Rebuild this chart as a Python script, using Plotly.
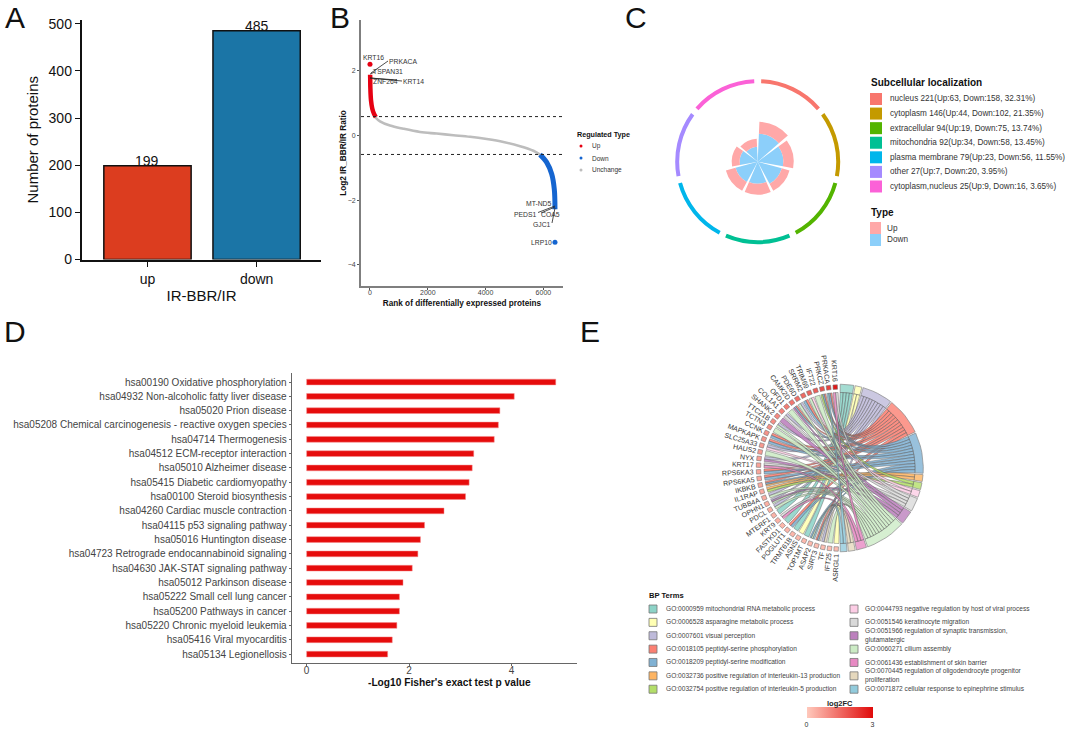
import math
import plotly.graph_objects as go

W, H = 1065, 732
FONT = "Liberation Sans"

# ---------- Panel A ----------
a_categories = ["up", "down"]
a_values = [199, 485]
a_colors = ["#DC3D1F", "#1B75A6"]

# ---------- Panel B ----------
b_red_rank = [5, 8, 12, 35, 80, 140, 200]
b_red_val = [1.88, 1.75, 1.5, 1.09, 0.83, 0.67, 0.57]
b_gray_rank = [173, 346, 692, 1154, 1731, 2308, 2885, 3462, 4039, 4616, 5193, 5655, 5885]
b_gray_val = [0.57, 0.44, 0.31, 0.21, 0.11, 0.06, 0.01, -0.04, -0.11, -0.2, -0.33, -0.47, -0.59]
b_blue_rank = [5882, 6114, 6287, 6377, 6400]
b_blue_val = [-0.59, -0.83, -1.19, -1.66, -2.28]
b_single_rank = [0, 6401]
b_single_val = [2.2, -3.3]
b_single_color = ["#E60012", "#1565D0"]
b_threshold = 0.585

# ---------- Panel C ----------
c_names = ["nucleus 221(Up:63, Down:158, 32.31%)", "cytoplasm 146(Up:44, Down:102, 21.35%)",
           "extracellular 94(Up:19, Down:75, 13.74%)", "mitochondria 92(Up:34, Down:58, 13.45%)",
           "plasma membrane 79(Up:23, Down:56, 11.55%)", "other 27(Up:7, Down:20, 3.95%)",
           "cytoplasm,nucleus 25(Up:9, Down:16, 3.65%)"]
c_colors = ["#F8766D", "#C49A00", "#53B400", "#00C094", "#00B6EB", "#A58AFF", "#FB61D7"]
c_down_radius = [28, 25.6, 25, 22, 23, 18, 15]
c_total_radius = [40, 36, 33, 33, 33, 26, 23]
c_up_color = "#FFA8A8"
c_down_color = "#8CCFFA"

# ---------- Panel D ----------
d_terms = ["hsa00190 Oxidative phosphorylation", "hsa04932 Non-alcoholic fatty liver disease",
           "hsa05020 Prion disease", "hsa05208 Chemical carcinogenesis - reactive oxygen species",
           "hsa04714 Thermogenesis", "hsa04512 ECM-receptor interaction", "hsa05010 Alzheimer disease",
           "hsa05415 Diabetic cardiomyopathy", "hsa00100 Steroid biosynthesis",
           "hsa04260 Cardiac muscle contraction", "hsa04115 p53 signaling pathway",
           "hsa05016 Huntington disease", "hsa04723 Retrograde endocannabinoid signaling",
           "hsa04630 JAK-STAT signaling pathway", "hsa05012 Parkinson disease",
           "hsa05222 Small cell lung cancer", "hsa05200 Pathways in cancer",
           "hsa05220 Chronic myeloid leukemia", "hsa05416 Viral myocarditis", "hsa05134 Legionellosis"]
d_values = [4.86, 4.05, 3.77, 3.74, 3.66, 3.26, 3.23, 3.17, 3.10, 2.68,
            2.30, 2.22, 2.17, 2.06, 1.88, 1.81, 1.81, 1.76, 1.67, 1.58]

# ---------- Panel E ----------
e_genes = ["KRT16", "PRKACA", "PRKCZ", "IFT22", "TRIM69", "SRRM2", "PDE6D", "CAMK2D", "OFD1", "COL1A1",
           "SHANK2", "TTC21B", "TCTN3", "CCNK", "MAPKAPK", "SLC25A33", "HAUS2", "NYX", "KRT17", "RPS6KA3",
           "RPS6KA5", "IKBKB", "IL1RAP", "TUBB4A", "OPHN1", "PDCL", "MTERF1", "KRT9", "FASTKD1", "POGLUT1",
           "TRMT61B", "ASNS", "TOP1MT", "ASAP2", "SIRT3", "TF", "IFT25", "ASRGL1"]
e_log2fc = [2.8, 2.1, 1.9, 1.7, 1.6, 1.5, 1.4, 1.3, 1.2, 1.1, 1.0, 0.95, 0.9, 0.85, 0.8, 0.75, 0.7, 0.65, 0.6,
            0.55, 0.5, 0.5, 0.45, 0.45, 0.4, 0.4, 0.35, 0.35, 0.3, 0.3, 0.3, 0.25, 0.25, 0.25, 0.2, 0.2, 0.2, 0.2]
e_terms = ["GO:0000959 mitochondrial RNA metabolic process", "GO:0006528 asparagine metabolic process",
           "GO:0007601 visual perception", "GO:0018105 peptidyl-serine phosphorylation",
           "GO:0018209 peptidyl-serine modification", "GO:0032736 positive regulation of interleukin-13 production",
           "GO:0032754 positive regulation of interleukin-5 production",
           "GO:0044793 negative regulation by host of viral process", "GO:0051546 keratinocyte migration",
           "GO:0051966 regulation of synaptic transmission,<br>glutamatergic", "GO:0060271 cilium assembly",
           "GO:0061436 establishment of skin barrier",
           "GO:0070445 regulation of oligodendrocyte progenitor<br>proliferation",
           "GO:0071872 cellular response to epinephrine stimulus"]
e_colors = ["#8DD3C7", "#FFFFB3", "#BEBADA", "#FB8072", "#80B1D3", "#FDB462", "#B3DE69",
            "#FCCDE5", "#D9D9D9", "#BC80BD", "#CCEBC5", "#E78AC3", "#E5D8BD", "#92CBDC"]
e_term_genes = [
    ["MTERF1", "FASTKD1", "TRMT61B", "TOP1MT"],
    ["ASNS", "ASRGL1"],
    ["PDE6D", "COL1A1", "TTC21B", "SLC25A33", "NYX", "TUBB4A", "OPHN1", "PDCL", "TF"],
    ["PRKACA", "PRKCZ", "SRRM2", "CAMK2D", "CCNK", "MAPKAPK", "RPS6KA3", "RPS6KA5", "IKBKB", "POGLUT1", "SIRT3"],
    ["PRKACA", "PRKCZ", "SRRM2", "CAMK2D", "CCNK", "MAPKAPK", "RPS6KA3", "RPS6KA5", "IKBKB", "POGLUT1", "ASAP2", "SIRT3"],
    ["IKBKB", "IL1RAP"],
    ["PRKCZ", "IL1RAP"],
    ["TRIM69", "SLC25A33"],
    ["KRT16", "COL1A1", "KRT17", "KRT9"],
    ["CAMK2D", "SHANK2", "NYX", "OPHN1"],
    ["IFT22", "TRIM69", "PDE6D", "OFD1", "TTC21B", "TCTN3", "HAUS2", "TUBB4A", "OPHN1", "PDCL", "ASAP2", "IFT25"],
    ["KRT16", "KRT17", "KRT9"],
    ["SIRT3", "TF"],
    ["PRKACA", "ASAP2"],
]


def X(px):
    return px / W


def Y(py):
    return 1 - py / H


fig = go.Figure()
annotations, shapes = [], []


def label(px, py, text, size, color="#222222", anchor="left", bold=False, angle=0):
    annotations.append(dict(x=X(px), y=Y(py), xref="paper", yref="paper", text=f"<b>{text}</b>" if bold else text,
                            showarrow=False, xanchor=anchor, yanchor="middle", textangle=angle, align=anchor,
                            font=dict(family=FONT, size=size, color=color)))


def swatch(x0, y0, x1, y1, color, line=None):
    shapes.append(dict(type="rect", xref="paper", yref="paper", x0=X(x0), x1=X(x1), y0=Y(y0), y1=Y(y1),
                       fillcolor=color, line=dict(width=0.8 if line else 0, color=line or color)))


def segment(x0, y0, x1, y1, color="#222222", width=0.8):
    shapes.append(dict(type="line", xref="paper", yref="paper", x0=X(x0), x1=X(x1), y0=Y(y0), y1=Y(y1),
                       line=dict(color=color, width=width)))


# ---- A ----
fig.add_trace(go.Bar(x=a_categories, y=a_values, marker=dict(color=a_colors, line=dict(color="#111111", width=1.5)),
                     width=0.8, xaxis="x", yaxis="y", showlegend=False, hoverinfo="x+y"))
for cat, val in zip(a_categories, a_values):
    annotations.append(dict(x=cat, y=val, xref="x", yref="y", text=str(val), showarrow=False, xanchor="center",
                            yanchor="middle", yshift=4.5, font=dict(family=FONT, size=14, color="#111111")))

# ---- B ----
fig.add_trace(go.Scatter(x=b_gray_rank, y=b_gray_val, mode="lines", line=dict(color="#BDBDBD", width=2.6, shape="spline"),
                         xaxis="x2", yaxis="y2", showlegend=False))
fig.add_trace(go.Scatter(x=b_red_rank, y=b_red_val, mode="lines", line=dict(color="#E60012", width=4.5, shape="spline"),
                         xaxis="x2", yaxis="y2", showlegend=False))
fig.add_trace(go.Scatter(x=b_blue_rank, y=b_blue_val, mode="lines", line=dict(color="#1565D0", width=5, shape="spline"),
                         xaxis="x2", yaxis="y2", showlegend=False))
fig.add_trace(go.Scatter(x=b_single_rank, y=b_single_val, mode="markers", marker=dict(color=b_single_color, size=5),
                         xaxis="x2", yaxis="y2", showlegend=False))
for v in (b_threshold, -b_threshold):
    shapes.append(dict(type="line", xref="x2", yref="y2", x0=-311, x1=6650, y0=v, y1=v,
                       line=dict(color="#222222", width=1, dash="3px,3px")))
for txt, px, py in [("KRT16", 373.3, 57.3), ("PRKACA", 403.3, 61.3), ("TSPAN31", 388, 71.3), ("ZNF264", 385.7, 81.7),
                    ("KRT14", 413.3, 81.3), ("MT-ND5", 538.7, 204), ("PEDS1", 525.7, 214), ("COA5", 550.7, 214.3),
                    ("GJC1", 542.3, 224.7), ("LRP10", 541, 242.3)]:
    label(px, py, txt, 6.8, "#333333", "center")
for seg in [(388, 61, 371, 73), (375, 72, 370, 74), (397, 80, 370, 78), (402, 81, 370, 78),
            (538, 212.5, 555, 206), (541, 213, 555, 207), (552, 223, 555, 208)]:
    segment(*seg)
label(575, 134, "Regulated Type", 7.2, "#111111", "left", True)
for py, txt, col in [(146, "Up", "#E60012"), (158, "Down", "#1565D0"), (170, "Unchange", "#BDBDBD")]:
    shapes.append(dict(type="circle", xref="paper", yref="paper", x0=X(579.5), x1=X(582.5), y0=Y(py + 1.5), y1=Y(py - 1.5),
                       fillcolor=col, line=dict(width=0)))
    label(590, py, txt, 6.5, "#333333")

# ---- C ----
c_step = 360 / len(c_names)
c_theta = [c_step * (i + 0.5) for i in range(len(c_names))]
c_up_height = [t - d for t, d in zip(c_total_radius, c_down_radius)]
fig.add_trace(go.Barpolar(r=c_down_radius, theta=c_theta, width=46.5, marker=dict(color=c_down_color, line=dict(width=0)),
                          showlegend=False, subplot="polar"))
fig.add_trace(go.Barpolar(r=c_up_height, base=c_down_radius, theta=c_theta, width=46.5,
                          marker=dict(color=c_up_color, line=dict(width=0)), showlegend=False, subplot="polar"))
fig.add_trace(go.Barpolar(r=[4] * 7, base=[78.5] * 7, theta=c_theta, width=46.5,
                          marker=dict(color=c_colors, line=dict(width=0)), showlegend=False, subplot="polar"))
label(868.7, 82.7, "Subcellular localization", 10, "#111111", "left", True)
for i, (name, col) in enumerate(zip(c_names, c_colors)):
    py = 99 + 14.58 * i
    swatch(870, py - 6, 882, py + 6, col)
    label(888, py, name, 8.2, "#333333")
label(869, 213, "Type", 10, "#111111", "left", True)
for py, txt, col in [(228, "Up", c_up_color), (240, "Down", c_down_color)]:
    swatch(870, py - 6, 881, py + 6, col)
    label(885, py, txt, 8.2, "#333333")

# ---- D ----
fig.add_trace(go.Bar(x=d_values, y=d_terms, orientation="h", width=0.4,
                     marker=dict(color="#E60C0C", line=dict(color="#F58A8A", width=0.5)),
                     xaxis="x3", yaxis="y3", showlegend=False))
label(449.7, 682, "-Log10 Fisher's exact test p value", 10.2, "#111111", "center", True)

# ---- E ----
E_CX, E_CY, E_HALF = 839.5, 468.0, 125
R_IN, R_OUT = 75.5, 83.8
GENE_STEP, GENE_TOP = 4.72, 357.0
n_units = sum(len(t) for t in e_term_genes)
gap = 0.9
unit = (179.0 - gap * (len(e_term_genes) - 1)) / n_units


def pt(phi, r):
    a = math.radians(phi)
    return r * math.sin(a), r * math.cos(a)


def arc(p0, p1, r, n=6):
    return [pt(p0 + (p1 - p0) * k / n, r) for k in range(n + 1)]


def bez(a, b, n=22):
    return [((1 - s) ** 2 * a[0] + (s ** 2) * b[0], (1 - s) ** 2 * a[1] + (s ** 2) * b[1])
            for s in (k / n for k in range(n + 1))]


gene_terms = {g: [] for g in e_genes}
for ti, members in enumerate(e_term_genes):
    for g in members:
        gene_terms[g].append(ti)


def rgba(hex_c, alpha):
    h = hex_c.lstrip("#")
    return f"rgba({int(h[0:2],16)},{int(h[2:4],16)},{int(h[4:6],16)},{alpha})"


start = 0.5
for ti, members in enumerate(e_term_genes):
    tw = unit * len(members)
    poly = arc(start, start + tw, R_OUT) + arc(start + tw, start, R_IN)
    poly.append(poly[0])
    fig.add_trace(go.Scatter(x=[p[0] for p in poly], y=[p[1] for p in poly], mode="lines", fill="toself",
                             fillcolor=rgba(e_colors[ti], 0.8), line=dict(color="#888888", width=0.7),
                             xaxis="x4", yaxis="y4", showlegend=False, hoverinfo="skip"))
    for k, g in enumerate(sorted(members, key=e_genes.index)):
        t0, t1 = start + unit * k, start + unit * (k + 1)
        gi = e_genes.index(g)
        slots = gene_terms[g]
        slot = slots.index(ti)
        width = (GENE_STEP - 0.9) / len(slots)
        top = GENE_TOP - gi * GENE_STEP + (GENE_STEP - 0.9) / 2
        g1 = top - slot * width
        g0 = g1 - width
        path = (bez(pt(g1, R_IN), pt(t0, R_IN)) + arc(t0, t1, R_IN, 2)
                + bez(pt(t1, R_IN), pt(g0, R_IN)) + arc(g0, g1, R_IN, 2))
        fig.add_trace(go.Scatter(x=[p[0] for p in path], y=[p[1] for p in path], mode="lines", fill="toself",
                                 fillcolor=rgba(e_colors[ti], 0.88), line=dict(color="rgba(85,85,85,0.85)", width=0.5),
                                 xaxis="x4", yaxis="y4", showlegend=False, hoverinfo="skip"))
    start += tw + gap

gene_phi = [GENE_TOP - i * GENE_STEP for i in range(len(e_genes))]
gene_xy = [pt(p, 81) for p in gene_phi]
fig.add_trace(go.Scatter(
    x=[p[0] for p in gene_xy], y=[p[1] for p in gene_xy], mode="markers", xaxis="x4", yaxis="y4", showlegend=False,
    text=e_genes, hoverinfo="text",
    marker=dict(symbol="square", size=4.4, angle=gene_phi, color=e_log2fc, cmin=0, cmax=3,
                colorscale=[[0, "#FFC9BC"], [1, "#E00A0A"]], line=dict(color="#777777", width=0.6),
                colorbar=dict(orientation="h", lenmode="pixels", len=65.6, thicknessmode="pixels", thickness=11,
                              x=X(839.5), xanchor="center", y=Y(716.2), yanchor="middle", tickvals=[0, 3], ticks="",
                              outlinewidth=0, xpad=0, ypad=0,
                              tickfont=dict(family=FONT, size=7, color="#333333")))))
label(839.5, 703, "log2FC", 7.5, "#222222", "center", True)


def est_width(s, size):
    w = 0
    for c in s:
        w += 0.556 if c.isdigit() else (0.28 if c in "IJ" else (0.833 if c == "M" else 0.68))
    return w * size


for g, phi in zip(e_genes, gene_phi):
    rc = 85.5 + est_width(g, 7) / 2
    xc, yc = pt(phi, rc)
    annotations.append(dict(x=xc, y=yc, xref="x4", yref="y4", text=g, showarrow=False, xanchor="center", yanchor="middle",
                            textangle=phi - 270, font=dict(family=FONT, size=7, color="#333333")))

label(647, 595, "BP Terms", 7.6, "#111111", "left", True)
for i, (name, col) in enumerate(zip(e_terms, e_colors)):
    col_i, row = (0, i) if i < 7 else (1, i - 7)
    py = 609 + 13.37 * row
    sx = 649 if col_i == 0 else 850
    tx = 663.7 if col_i == 0 else 863
    swatch(sx, py - 4, sx + 8, py + 4, col, "#777777")
    label(tx, py, name, 6.6, "#444444")

# ---- Panel letters ----
for ch, px, py in [("A", 3, 17.5), ("B", 328, 17.5), ("C", 623, 17.5), ("D", 2, 331), ("E", 578, 331)]:
    label(px, py, ch, 30, "#111111")

fig.update_layout(
    width=W, height=H, margin=dict(l=0, r=0, t=0, b=0, autoexpand=False), autosize=False, paper_bgcolor="white", plot_bgcolor="white",
    font=dict(family=FONT), showlegend=False, annotations=annotations, shapes=shapes,
    bargap=0.2,
    xaxis=dict(domain=[X(82), X(321)], range=[-0.6, 1.59], type="category", showgrid=False, zeroline=False, showline=True,
               linecolor="#111111", linewidth=1.5, ticks="outside", ticklen=5.5, tickwidth=1.2, tickcolor="#111111",
               tickfont=dict(family=FONT, size=14, color="#111111"), anchor="y",
               title=dict(text="IR-BBR/IR", font=dict(family=FONT, size=15, color="#111111"), standoff=5)),
    yaxis=dict(domain=[Y(259.5), Y(20)], range=[0, 508], showgrid=False, zeroline=False, showline=True, linecolor="#111111",
               linewidth=1.5, ticks="outside", ticklen=5.5, tickwidth=1.2, tickcolor="#111111", tickvals=[0, 100, 200, 300, 400, 500],
               tickfont=dict(family=FONT, size=14, color="#111111"), anchor="x",
               title=dict(text="Number of proteins", font=dict(family=FONT, size=15, color="#111111"), standoff=6)),
    xaxis2=dict(domain=[X(361), X(563)], range=[-311, 6678], showgrid=False, zeroline=False, showline=True, linecolor="#7F7F7F",
                linewidth=1.8, ticks="outside", ticklen=2, tickwidth=0.8, tickcolor="#555555", tickvals=[0, 2000, 4000, 6000],
                tickfont=dict(family=FONT, size=7, color="#444444"), anchor="y2", ticklabelstandoff=-3,
                title=dict(text="<b>Rank of differentially expressed proteins</b>", font=dict(family=FONT, size=8.2, color="#111111"), standoff=5)),
    yaxis2=dict(domain=[Y(286), Y(20)], range=[-4.65, 3.57], showgrid=False, zeroline=False, showline=True, linecolor="#7F7F7F",
                linewidth=1.8, ticks="outside", ticklen=2, tickwidth=0.8, tickcolor="#555555", tickvals=[-4, -2, 0, 2],
                tickfont=dict(family=FONT, size=7, color="#444444"), anchor="x2",
                title=dict(text="<b>Log2 IR_BBR/IR Ratio</b>", font=dict(family=FONT, size=8.2, color="#111111"), standoff=0)),
    xaxis3=dict(domain=[X(292.3), X(577)], range=[-0.28, 5.275], showgrid=False, zeroline=False, showline=True, linecolor="#666666",
                linewidth=1.2, ticks="outside", ticklen=2.5, tickwidth=0.8, tickcolor="#666666", tickvals=[0, 2, 4],
                tickfont=dict(family=FONT, size=10, color="#444444"), anchor="y3", ticklabelstandoff=-4),
    yaxis3=dict(domain=[Y(662.7), Y(373)], type="category", range=[19.6, -0.63], showgrid=False, zeroline=False, showline=True,
                linecolor="#666666", linewidth=1.2, ticks="outside", ticklen=2.5, tickwidth=0.8, tickcolor="#666666",
                tickfont=dict(family=FONT, size=10, color="#444444"), anchor="x3"),
    xaxis4=dict(domain=[X(E_CX - E_HALF), X(E_CX + E_HALF)], range=[-E_HALF, E_HALF], visible=False, anchor="y4"),
    yaxis4=dict(domain=[Y(E_CY + E_HALF), Y(E_CY - E_HALF)], range=[-E_HALF, E_HALF], visible=False, anchor="x4"),
    polar=dict(domain=dict(x=[X(757.7 - 85), X(757.7 + 85)], y=[Y(161.7 + 85), Y(161.7 - 85)]), barmode="overlay",
               bgcolor="white", angularaxis=dict(visible=False, rotation=90, direction="clockwise"),
               radialaxis=dict(visible=False, range=[0, 85])),
)

fig.write_html("out.html", config={"displayModeBar": False},
               post_script="document.body.style.margin='0';document.body.style.overflow='hidden';")
